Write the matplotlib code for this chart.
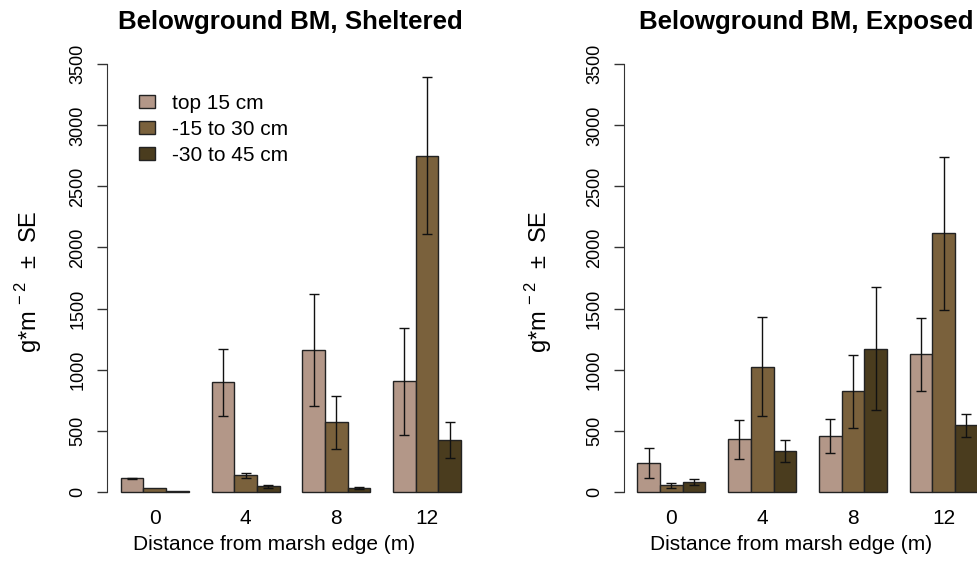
import numpy as np
import matplotlib.pyplot as plt

plt.rcParams['font.family'] = ['Liberation Sans', 'DejaVu Sans']
plt.rcParams['mathtext.fontset'] = 'custom'
plt.rcParams['mathtext.rm'] = 'Liberation Sans'

# distance from marsh edge (m)
distances = ['0', '4', '8', '12']
depths = ['top 15 cm', '-15 to 30 cm', '-30 to 45 cm']
colors = ['#B39788', '#7A613C', '#4A3C1E']

# belowground biomass, g*m^-2 (rows = depth, cols = distance)
sheltered_mean = [[110, 895, 1160, 904],
                  [30, 134, 568, 2752],
                  [2, 44, 27, 423]]
sheltered_se = [[4, 275, 456, 437],
                [0, 22, 215, 642],
                [0, 10, 8, 149]]
exposed_mean = [[235, 429, 456, 1125],
                [52, 1024, 822, 2116],
                [79, 333, 1171, 543]]
exposed_se = [[124, 161, 138, 299],
              [22, 407, 297, 628],
              [22, 89, 505, 93]]

W, H = 978, 580
fig = plt.figure(figsize=(W / 100, H / 100), dpi=100)

# axes placement in pixels (R-like plot regions)
ax_w = 367.7
ax_bot, ax_top = 508.8, 47.2
lefts = [107.1, 623.7]


def draw_panel(ax, means, ses, title, title_x, ylab_x, legend=False):
    means = np.array(means, dtype=float)
    ses = np.array(ses, dtype=float)
    for j in range(len(depths)):
        lefts_j = 1 + 4 * np.arange(len(distances)) + j
        ax.bar(lefts_j, means[j], width=1, align='edge', color=colors[j],
               edgecolor='#222222', linewidth=1.0, label=depths[j], zorder=2)
        centers = lefts_j + 0.5
        keep = ses[j] > 0
        ax.errorbar(centers[keep], means[j][keep], yerr=ses[j][keep], fmt='none',
                    ecolor='#111111', elinewidth=1.0, capsize=3.5, capthick=1.0,
                    zorder=3)
    ax.set_xlim(0.4, 16.6)
    ax.set_ylim(-140, 3640)
    for s in ['top', 'right', 'bottom']:
        ax.spines[s].set_visible(False)
    ax.spines['left'].set_bounds(0, 3500)
    ax.spines['left'].set_color('#333333')
    ax.set_yticks(np.arange(0, 3501, 500))
    ax.tick_params(axis='y', length=7, width=1, color='#333333', labelsize=13,
                   labelrotation=90, pad=8)
    for lab in ax.get_yticklabels():
        lab.set_va('center')
    ax.set_xticks(2.5 + 4 * np.arange(len(distances)))
    ax.set_xticklabels(distances)
    ax.tick_params(axis='x', length=0, labelsize=15, pad=0)
    ax.set_xlabel('Distance from marsh edge (m)', fontsize=15)
    ax.xaxis.set_label_coords(0.455, -0.057)
    fig.text(title_x / W, 1 - 22 / H, title, fontsize=18.6, fontweight='bold',
             ha='center', va='center')
    fig.text(ylab_x / W, 1 - 282 / H, r'g*m$^{\mathregular{\,-2}}$  ±  SE',
             fontsize=17, rotation=90, ha='center', va='center')
    if legend:
        ax.legend(loc='upper left', bbox_to_anchor=(0.063, 0.917), frameon=False,
                  fontsize=15, handlelength=0.77, handleheight=0.58,
                  handletextpad=0.85, labelspacing=0.33, borderaxespad=0)


ax1 = fig.add_axes([lefts[0] / W, 1 - ax_bot / H, ax_w / W, (ax_bot - ax_top) / H])
ax2 = fig.add_axes([lefts[1] / W, 1 - ax_bot / H, ax_w / W, (ax_bot - ax_top) / H])

draw_panel(ax1, sheltered_mean, sheltered_se, 'Belowground BM, Sheltered', 290, 29,
           legend=True)
draw_panel(ax2, exposed_mean, exposed_se, 'Belowground BM, Exposed', 806, 539)

fig.savefig('out.png', dpi=100)
